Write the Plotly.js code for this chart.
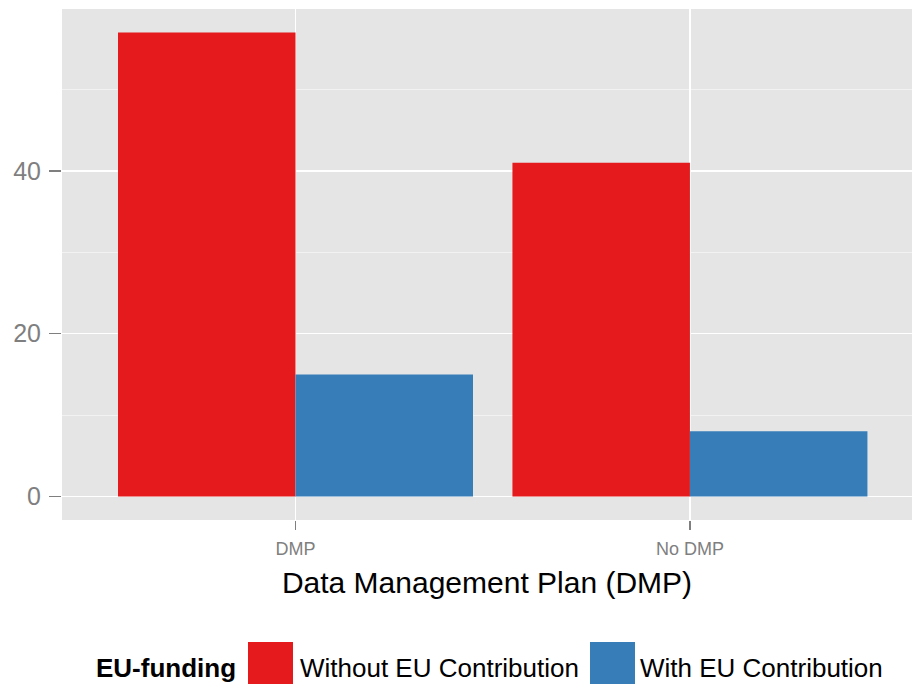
<!DOCTYPE html>
<html lang="en">
<head>
    <meta charset="UTF-8">
    <title>EU-funding by DMP</title>
    <script src="https://cdn.plot.ly/plotly-3.0.1.min.js"></script>
    <style>
        body { margin: 0; background: #ffffff; }
        #chart { width: 912px; height: 684px; }
    </style>
</head>
<body>
    <div id="chart"></div>
    <script>
        // categories and series
        const categories = ['DMP', 'No DMP'];
        const seriesNames = ['Without EU Contribution', 'With EU Contribution'];
        const withoutEU = [57, 41];
        const withEU = [15, 8];
        const colors = ['#e41a1c', '#377eb8'];
        const legendTitle = 'EU-funding';

        const traces = [
            { x: categories, y: withoutEU, name: seriesNames[0], type: 'bar',
              marker: { color: colors[0] }, hoverinfo: 'x+y+name' },
            { x: categories, y: withEU, name: seriesNames[1], type: 'bar',
              marker: { color: colors[1] }, hoverinfo: 'x+y+name' }
        ];

        // legend drawn by hand to get ggplot-sized keys
        const plotW = 850, plotH = 511, marT = 9, marL = 62;
        const px = v => (v - marL) / plotW;
        const py = v => (marT + plotH - v) / plotH;
        const keyX = [248, 590];
        const shapes = keyX.map((k, i) => ({
            type: 'rect', xref: 'paper', yref: 'paper',
            x0: px(k), x1: px(k + 45), y0: py(642), y1: py(686),
            fillcolor: colors[i], line: { width: 0 }
        }));
        const annotations = [
            { text: '<b>' + legendTitle + '</b>', x: px(238), y: py(668),
              xanchor: 'right', yanchor: 'middle' },
            { text: seriesNames[0], x: px(298), y: py(668), xanchor: 'left', yanchor: 'middle' },
            { text: seriesNames[1], x: px(638), y: py(668), xanchor: 'left', yanchor: 'middle' }
        ].map(a => Object.assign(a, {
            xref: 'paper', yref: 'paper', showarrow: false,
            font: { family: 'Liberation Sans, Arial, sans-serif', size: 26, color: '#000000' }
        }));

        const layout = {
            width: 912,
            height: 684,
            margin: { l: marL, r: 0, t: marT, b: 684 - marT - plotH },
            paper_bgcolor: '#ffffff',
            plot_bgcolor: '#e5e5e5',
            barmode: 'group',
            bargap: 0.1,
            bargroupgap: 0,
            showlegend: false,
            font: { family: 'Liberation Sans, Arial, sans-serif' },
            xaxis: {
                type: 'category',
                range: [-0.592, 1.563],
                showgrid: true,
                gridcolor: '#ffffff',
                gridwidth: 1.5,
                zeroline: false,
                showline: false,
                ticks: 'outside',
                ticklen: 9,
                tickwidth: 1.5,
                tickcolor: '#7f7f7f',
                ticklabelstandoff: 3,
                tickfont: { size: 18, color: '#7f7f7f' },
                title: {
                    text: 'Data Management Plan (DMP)',
                    font: { size: 30, color: '#000000' },
                    standoff: 14
                }
            },
            yaxis: {
                range: [-2.89, 59.9],
                tickvals: [0, 20, 40],
                showgrid: true,
                gridcolor: '#ffffff',
                gridwidth: 1.5,
                zeroline: false,
                showline: false,
                ticks: 'outside',
                ticklen: 12,
                tickwidth: 1.5,
                tickcolor: '#7f7f7f',
                ticklabelstandoff: 3,
                tickfont: { size: 25, color: '#7f7f7f' },
                minor: {
                    tickvals: [10, 30, 50],
                    showgrid: true,
                    gridcolor: '#f2f2f2',
                    gridwidth: 1,
                    ticks: ''
                }
            },
            shapes: shapes,
            annotations: annotations
        };

        Plotly.newPlot('chart', traces, layout, { displayModeBar: false, staticPlot: true });
    </script>
</body>
</html>
